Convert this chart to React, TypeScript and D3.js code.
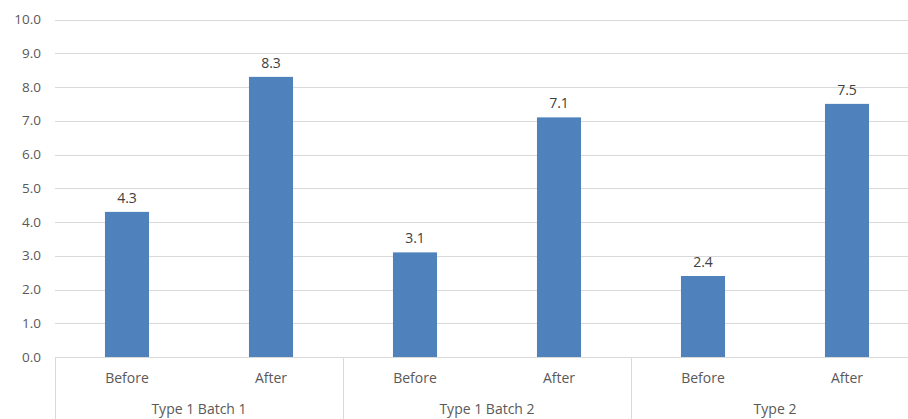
import React from "react";
import * as d3 from "d3";

const groups = ["Type 1 Batch 1", "Type 1 Batch 2", "Type 2"];
const phases = ["Before", "After"];
const beforeValues = [4.3, 3.1, 2.4];
const afterValues = [8.3, 7.1, 7.5];
const yTicks = [0, 1, 2, 3, 4, 5, 6, 7, 8, 9, 10];

const W = 908;
const H = 419;
const plotLeft = 55;
const plotRight = 919;
const yTop = 19.5;
const yBottom = 357;

const FONT = "'Open Sans', 'Liberation Sans', sans-serif";

export default function App() {
  const x0 = d3.scaleBand<string>().domain(groups).range([plotLeft, plotRight]).padding(0);
  const x1 = d3
    .scaleBand<string>()
    .domain(phases)
    .range([0, x0.bandwidth()])
    .paddingInner(0.694)
    .paddingOuter(0.347);
  const y = d3.scaleLinear().domain([0, 10]).range([yBottom, yTop]);

  const bars = groups.flatMap((g, i) => [
    { group: g, phase: "Before", value: beforeValues[i] },
    { group: g, phase: "After", value: afterValues[i] },
  ]);

  return (
    <svg
      width={W}
      height={H}
      style={{ position: "absolute", left: 0, top: 0, background: "#fff" }}
      fontFamily={FONT}
    >
      {yTicks.map((t) => (
        <g key={t}>
          <line
            x1={plotLeft}
            x2={W}
            y1={Math.round(y(t)) + 0.5}
            y2={Math.round(y(t)) + 0.5}
            stroke="#d9d9d9"
            strokeWidth={1}
          />
          <text
            x={41}
            y={y(t)}
            dy="0.35em"
            textAnchor="end"
            fontSize={13.5}
            fill="#595959"
          >
            {d3.format(".1f")(t)}
          </text>
        </g>
      ))}

      {/* category separators below the axis */}
      {groups.map((g) => (
        <line
          key={g}
          x1={Math.round(x0(g)!) + 0.5}
          x2={Math.round(x0(g)!) + 0.5}
          y1={yBottom}
          y2={H}
          stroke="#d9d9d9"
        />
      ))}

      {bars.map((b) => {
        const bx = x0(b.group)! + x1(b.phase)!;
        const by = y(b.value);
        return (
          <g key={b.group + b.phase}>
            <rect
              x={bx}
              y={by}
              width={x1.bandwidth()}
              height={yBottom - by}
              fill="#4f81bd"
            />
            <text
              x={bx + x1.bandwidth() / 2}
              y={by - 9}
              textAnchor="middle"
              fontSize={14}
              fill="#404040"
            >
              {d3.format(".1f")(b.value)}
            </text>
          </g>
        );
      })}

      {bars.map((b) => (
        <text
          key={"l" + b.group + b.phase}
          x={x0(b.group)! + x1(b.phase)! + x1.bandwidth() / 2}
          y={378}
          dy="0.35em"
          textAnchor="middle"
          fontSize={14}
          fill="#595959"
        >
          {b.phase}
        </text>
      ))}

      {groups.map((g) => (
        <text
          key={"g" + g}
          x={x0(g)! + x0.bandwidth() / 2}
          y={409}
          dy="0.35em"
          textAnchor="middle"
          fontSize={14}
          fill="#595959"
        >
          {g}
        </text>
      ))}
    </svg>
  );
}
